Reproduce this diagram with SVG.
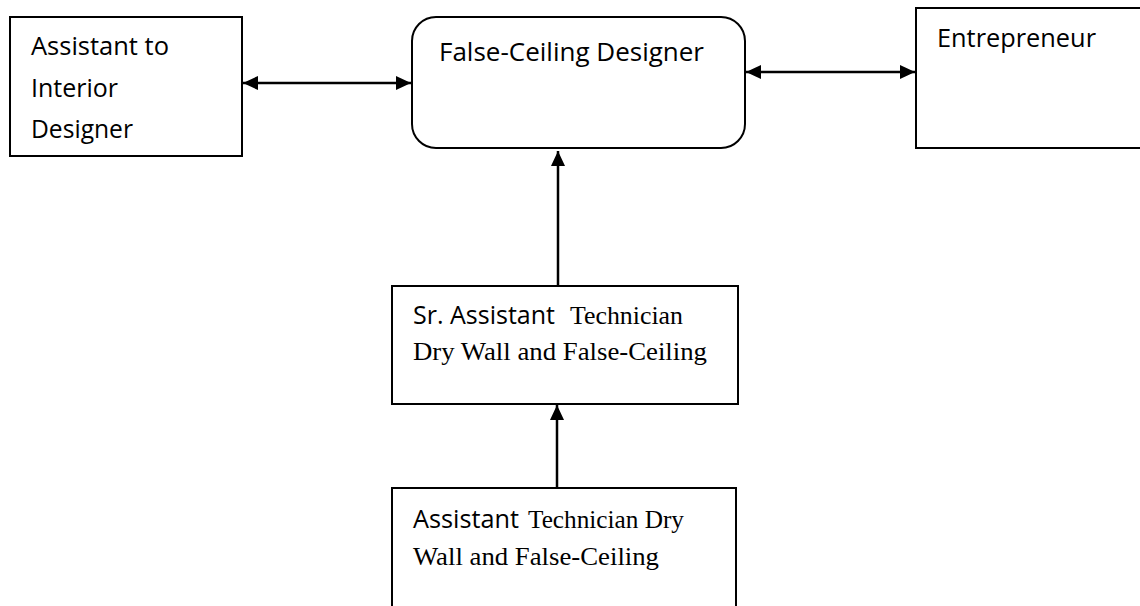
<svg xmlns="http://www.w3.org/2000/svg" width="1140" height="606" viewBox="0 0 1140 606">
<style>
.box{fill:#fff;stroke:#000;stroke-width:2}
.sans{font-family:"Open Sans","Noto Sans",sans-serif;font-size:26px;fill:#000}
.serif{font-family:"Liberation Serif","Times New Roman",serif;font-size:26px;fill:#000}
.conn{stroke:#000;stroke-width:2.5;fill:none}
</style>
<defs>
<marker id="ah" markerUnits="userSpaceOnUse" markerWidth="16" markerHeight="14" refX="15" refY="7" orient="auto-start-reverse" viewBox="0 0 16 14">
<path d="M0,0 L15,7 L0,14 z" fill="#000"/>
</marker>
</defs>
<rect width="1140" height="606" fill="#fff"/>
<g id="connectors">
<line class="conn" x1="243" y1="83" x2="411" y2="83" marker-start="url(#ah)" marker-end="url(#ah)"/>
<line class="conn" x1="746" y1="72" x2="915" y2="72" marker-start="url(#ah)" marker-end="url(#ah)"/>
<line class="conn" x1="558" y1="285" x2="558" y2="151" marker-end="url(#ah)"/>
<line class="conn" x1="557" y1="487" x2="557" y2="405" marker-end="url(#ah)"/>
</g>
<g id="assistant-interior">
<rect class="box" x="10" y="17" width="232" height="139"/>
<text class="sans" x="31" y="55" textLength="138" lengthAdjust="spacingAndGlyphs">Assistant to</text>
<text class="sans" x="31" y="97" textLength="87" lengthAdjust="spacingAndGlyphs">Interior</text>
<text class="sans" x="31" y="138" textLength="102" lengthAdjust="spacingAndGlyphs">Designer</text>
</g>
<g id="false-ceiling-designer">
<rect class="box" x="412" y="17" width="333" height="131" rx="24" ry="24"/>
<text class="sans" x="439" y="61" textLength="265" lengthAdjust="spacingAndGlyphs">False-Ceiling Designer</text>
</g>
<g id="entrepreneur">
<rect class="box" x="916" y="8" width="240" height="140"/>
<text class="sans" x="937" y="47" textLength="159" lengthAdjust="spacingAndGlyphs">Entrepreneur</text>
</g>
<g id="sr-assistant">
<rect class="box" x="392" y="286" width="346" height="118"/>
<text class="sans" x="413" y="324" textLength="142" lengthAdjust="spacingAndGlyphs">Sr. Assistant</text>
<text class="serif" x="570" y="324" textLength="113" lengthAdjust="spacingAndGlyphs">Technician</text>
<text class="serif" x="413" y="360" textLength="294" lengthAdjust="spacingAndGlyphs">Dry Wall and False-Ceiling</text>
</g>
<g id="assistant-technician">
<rect class="box" x="392" y="488" width="344" height="130"/>
<text class="sans" x="413" y="528" textLength="106" lengthAdjust="spacingAndGlyphs">Assistant</text>
<text class="serif" x="528" y="528" textLength="156" lengthAdjust="spacingAndGlyphs">Technician Dry</text>
<text class="serif" x="413" y="565" textLength="246" lengthAdjust="spacingAndGlyphs">Wall and False-Ceiling</text>
</g>
</svg>
